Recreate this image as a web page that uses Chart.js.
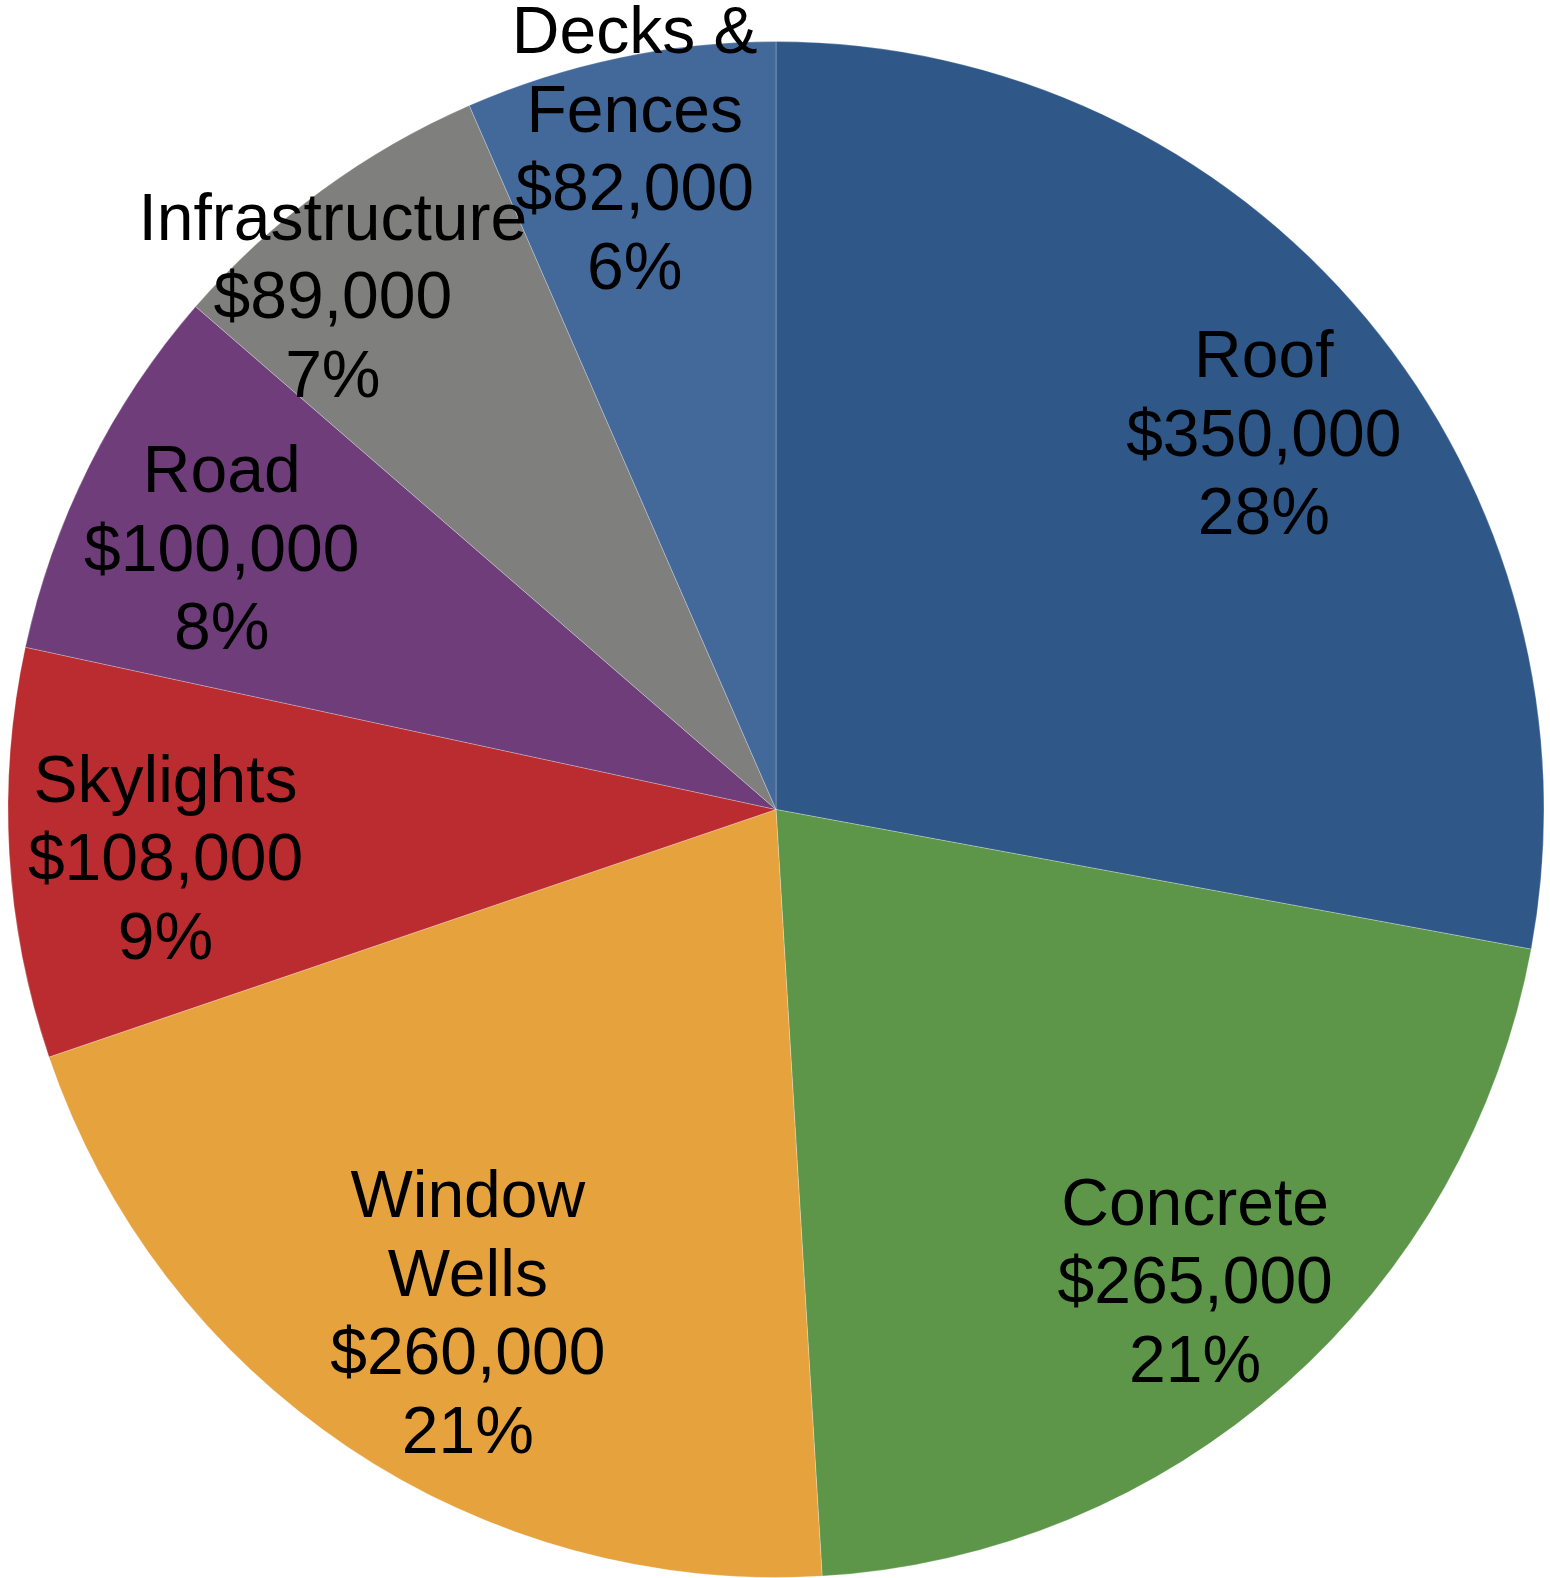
<!DOCTYPE html>
<html>
<head>
<meta charset="utf-8">
<script src="https://cdn.jsdelivr.net/npm/chart.js@4"></script>
<style>
  html, body { margin: 0; padding: 0; background: #fff; }
  #wrap { width: 1550px; height: 1578px; }
</style>
</head>
<body>
<div id="wrap"><canvas id="costs"></canvas></div>
<script>
// project cost breakdown
const categories = [['Roof'], ['Concrete'], ['Window', 'Wells'], ['Skylights'], ['Road'], ['Infrastructure'], ['Decks &', 'Fences']];
const costs = [350000, 265000, 260000, 108000, 100000, 89000, 82000];
const shareLabels = ['28%', '21%', '21%', '9%', '8%', '7%', '6%'];
const sliceColors = ['#2f5889', '#5d9649', '#e6a23d', '#bb2c30', '#6e3d7a', '#7f807e', '#43699b'];

// where each label sits: fraction of the radius, and how far along the slice
const labelRadius = [0.80, 0.82, 0.77, 0.80, 0.80, 0.885, 0.88];
const labelAlong = [0.52, 0.50, 0.47, 0.46, 0.45, 0.32, 0.48];

const money = v => '$' + v.toLocaleString('en-US');

// draws the name / amount / share text inside every slice
const sliceText = {
    id: 'sliceText',
    afterDatasetsDraw(chart) {
        const ctx = chart.ctx;
        const arcs = chart.getDatasetMeta(0).data;
        ctx.save();
        ctx.font = '66px "Liberation Sans", Arial, sans-serif';
        ctx.fillStyle = '#000';
        ctx.textAlign = 'center';
        ctx.textBaseline = 'middle';
        const lineH = 78.5;
        arcs.forEach((arc, i) => {
            const a = arc.startAngle + (arc.endAngle - arc.startAngle) * labelAlong[i];
            const r = arc.outerRadius * labelRadius[i];
            const cx = arc.x + Math.cos(a) * r + 2;
            const cy = arc.y + Math.sin(a) * r;
            const lines = categories[i].concat([money(costs[i]), shareLabels[i]]);
            lines.forEach((t, k) => {
                ctx.fillText(t, cx, cy + (k - (lines.length - 1) / 2) * lineH + 4);
            });
        });
        ctx.restore();
    }
};

new Chart(document.getElementById('costs'), {
    type: 'pie',
    data: {
        labels: categories,
        datasets: [
            {
                data: costs,
                backgroundColor: sliceColors,
                borderColor: 'rgba(255,255,255,0.25)',
                borderWidth: 1,
            },
        ],
    },
    options: {
        responsive: true,
        maintainAspectRatio: false,
        animation: false,
        layout: {
            padding: { left: 7, right: 5, top: 41, bottom: 0 },
        },
        plugins: {
            legend: { display: false },
            tooltip: { enabled: false },
        },
    },
    plugins: [sliceText],
})
</script>
</body>
</html>
